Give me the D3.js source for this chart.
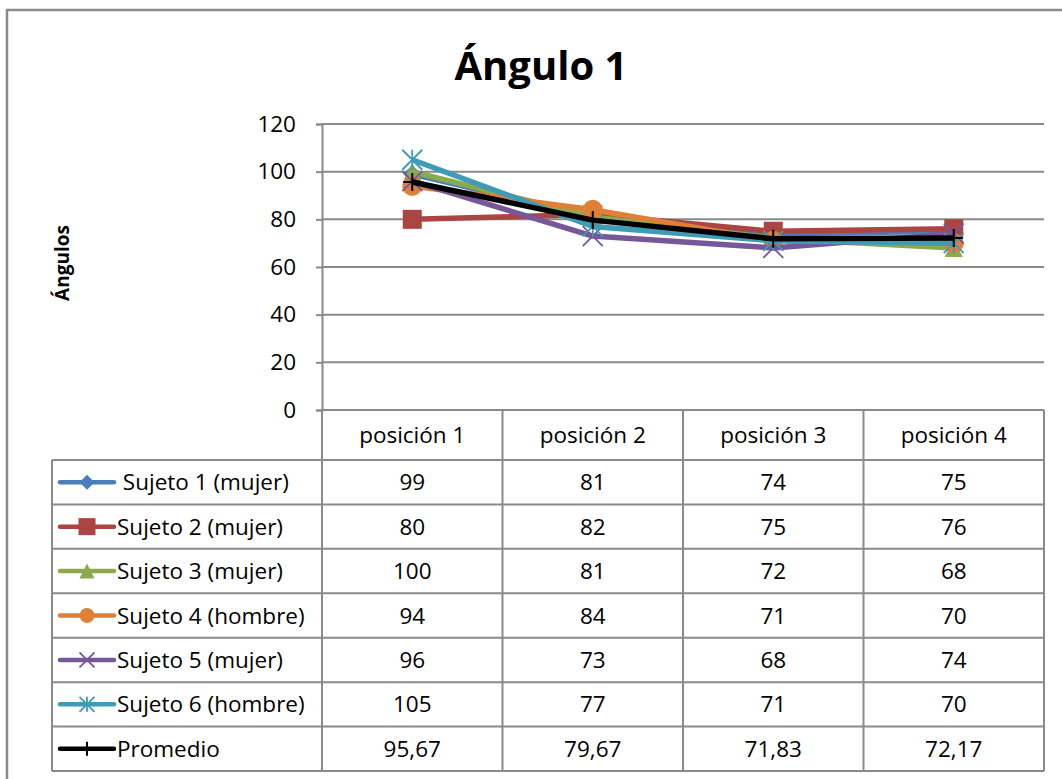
<!DOCTYPE html>
<html><head><meta charset="utf-8">
<script src="https://cdn.jsdelivr.net/npm/d3@7"></script>
<style>
body{margin:0;background:#fff;}
text{font-family:"Open Sans",sans-serif;fill:#000;}
</style></head>
<body>
<svg id="c" width="1062" height="779"></svg>
<script>
const categories = ["posición 1","posición 2","posición 3","posición 4"];
const seriesNames = [" Sujeto 1 (mujer)","Sujeto 2 (mujer)","Sujeto 3 (mujer)","Sujeto 4 (hombre)","Sujeto 5 (mujer)","Sujeto 6 (hombre)","Promedio"];
const s1 = [99,81,74,75];
const s2 = [80,82,75,76];
const s3 = [100,81,72,68];
const s4 = [94,84,71,70];
const s5 = [96,73,68,74];
const s6 = [105,77,71,70];
const promedio = [95.67,79.67,71.83,72.17];
const tableLabels = [
  ["99","81","74","75"],
  ["80","82","75","76"],
  ["100","81","72","68"],
  ["94","84","71","70"],
  ["96","73","68","74"],
  ["105","77","71","70"],
  ["95,67","79,67","71,83","72,17"]
];
const yTicks = [0,20,40,60,80,100,120];
const colors = ["#4A7EBB","#AA4541","#8CAA4C","#DE8136","#76579A","#3F9CB6","#000000"];
const symbolsT = ["diamond","square","triangle","circle","x","star","plus"];
const seriesData = [s1,s2,s3,s4,s5,s6,promedio];

const svg = d3.select("#c");
const L=322, R=1044, T=124, B=410;
const x = d3.scaleBand().domain(categories).range([L,R]);
const y = d3.scaleLinear().domain([0,120]).range([B,T]);
const grid="#8a8a8a";
const FS = 22.5;

// outer border
svg.append("path").attr("d","M7,779 V10 H1062").attr("fill","none").attr("stroke",grid).attr("stroke-width",2.5);

// title
svg.append("text").attr("x",541).attr("y",80).attr("text-anchor","middle")
  .attr("font-size",40).attr("font-weight","bold").text("Ángulo 1");

// axis label
svg.append("text").attr("transform","translate(69,263) rotate(-90)").attr("text-anchor","middle")
  .attr("font-size",19).attr("font-weight","bold").text("Ángulos");

// gridlines
svg.append("g").selectAll("line").data(yTicks).join("line")
  .attr("x1",L).attr("x2",R).attr("y1",d=>y(d)).attr("y2",d=>y(d))
  .attr("stroke",grid).attr("stroke-width",2);
// y axis
const ya = svg.append("g").attr("transform",`translate(${L},0)`)
  .call(d3.axisLeft(y).tickValues(yTicks).tickSize(6).tickPadding(20));
ya.select(".domain").attr("stroke",grid).attr("stroke-width",2);
ya.selectAll(".tick line").attr("stroke",grid).attr("stroke-width",2);
ya.selectAll(".tick text").attr("font-size",FS).attr("font-family","'Open Sans',sans-serif").attr("fill","#000");

// symbol drawer
function drawMarker(g, type, cx, cy, sz, color){
  const h=sz/2;
  if(type==="diamond"){
    g.append("path").attr("d",`M${cx},${cy-h}L${cx+h},${cy}L${cx},${cy+h}L${cx-h},${cy}Z`).attr("fill",color);
  } else if(type==="square"){
    g.append("rect").attr("x",cx-h).attr("y",cy-h).attr("width",sz).attr("height",sz).attr("fill",color);
  } else if(type==="triangle"){
    g.append("path").attr("d",`M${cx},${cy-h}L${cx+h},${cy+h}L${cx-h},${cy+h}Z`).attr("fill",color);
  } else if(type==="circle"){
    g.append("circle").attr("cx",cx).attr("cy",cy).attr("r",h).attr("fill",color);
  } else if(type==="x"){
    g.append("path").attr("d",`M${cx-h},${cy-h}L${cx+h},${cy+h}M${cx-h},${cy+h}L${cx+h},${cy-h}`).attr("stroke",color).attr("stroke-width",1.8);
  } else if(type==="star"){
    g.append("path").attr("d",`M${cx-h},${cy-h}L${cx+h},${cy+h}M${cx-h},${cy+h}L${cx+h},${cy-h}M${cx},${cy-h}L${cx},${cy+h}`).attr("stroke",color).attr("stroke-width",1.8);
  } else if(type==="plus"){
    g.append("path").attr("d",`M${cx-h},${cy}L${cx+h},${cy}M${cx},${cy-h}L${cx},${cy+h}`).attr("stroke",color).attr("stroke-width",2);
  }
}

// lines
const line = d3.line().x((d,i)=>x(categories[i])+x.bandwidth()/2).y(d=>y(d));
const plotG = svg.append("g");
const markerSizes = [18,19,18,20,20,20,18];
seriesData.forEach((data,si)=>{
  const g = plotG.append("g");
  g.append("path").datum(data).attr("d",line).attr("fill","none")
    .attr("stroke",colors[si]).attr("stroke-width",5.5).attr("stroke-linejoin","round");
  data.forEach((v,i)=>drawMarker(g,symbolsT[si],x(categories[i])+x.bandwidth()/2,y(v),markerSizes[si],colors[si]));
});

// table
const tbl = svg.append("g");
const headB = 460, rowH = (771-460)/7, tableL = 52;
categories.forEach((c,i)=>{
  tbl.append("text").attr("x",x(c)+x.bandwidth()/2).attr("y",(B+headB)/2+8)
    .attr("text-anchor","middle").attr("font-size",FS).text(c);
});
seriesNames.forEach((n,r)=>{
  const cy = headB + rowH*r + rowH/2;
  tableLabels[r].forEach((t,i)=>{
    tbl.append("text").attr("x",x(categories[i])+x.bandwidth()/2).attr("y",cy+8)
      .attr("text-anchor","middle").attr("font-size",FS).text(t);
  });
  tbl.append("line").attr("x1",60).attr("x2",114).attr("y1",cy).attr("y2",cy)
    .attr("stroke",colors[r]).attr("stroke-width",4.5).attr("stroke-linecap","round");
  drawMarker(tbl,symbolsT[r],87,cy,r===6?14:(r===1?17:15),colors[r]);
  tbl.append("text").attr("x",117).attr("y",cy+8).attr("font-size",FS)
    .style("white-space","pre").text(n);
});
// table grid
const tg = svg.append("g").attr("stroke",grid).attr("stroke-width",2).attr("fill","none");
tg.append("line").attr("x1",L).attr("x2",R).attr("y1",headB).attr("y2",headB);
tg.append("line").attr("x1",tableL).attr("x2",L).attr("y1",headB).attr("y2",headB);
for(let r=1;r<=7;r++){
  tg.append("line").attr("x1",tableL).attr("x2",R).attr("y1",headB+rowH*r).attr("y2",headB+rowH*r);
}
tg.append("line").attr("x1",tableL).attr("x2",tableL).attr("y1",headB).attr("y2",771);
categories.forEach((c,i)=>{
  tg.append("line").attr("x1",x(c)).attr("x2",x(c)).attr("y1",B).attr("y2",771);
});
tg.append("line").attr("x1",R).attr("x2",R).attr("y1",B).attr("y2",771);
</script>
</body></html>
